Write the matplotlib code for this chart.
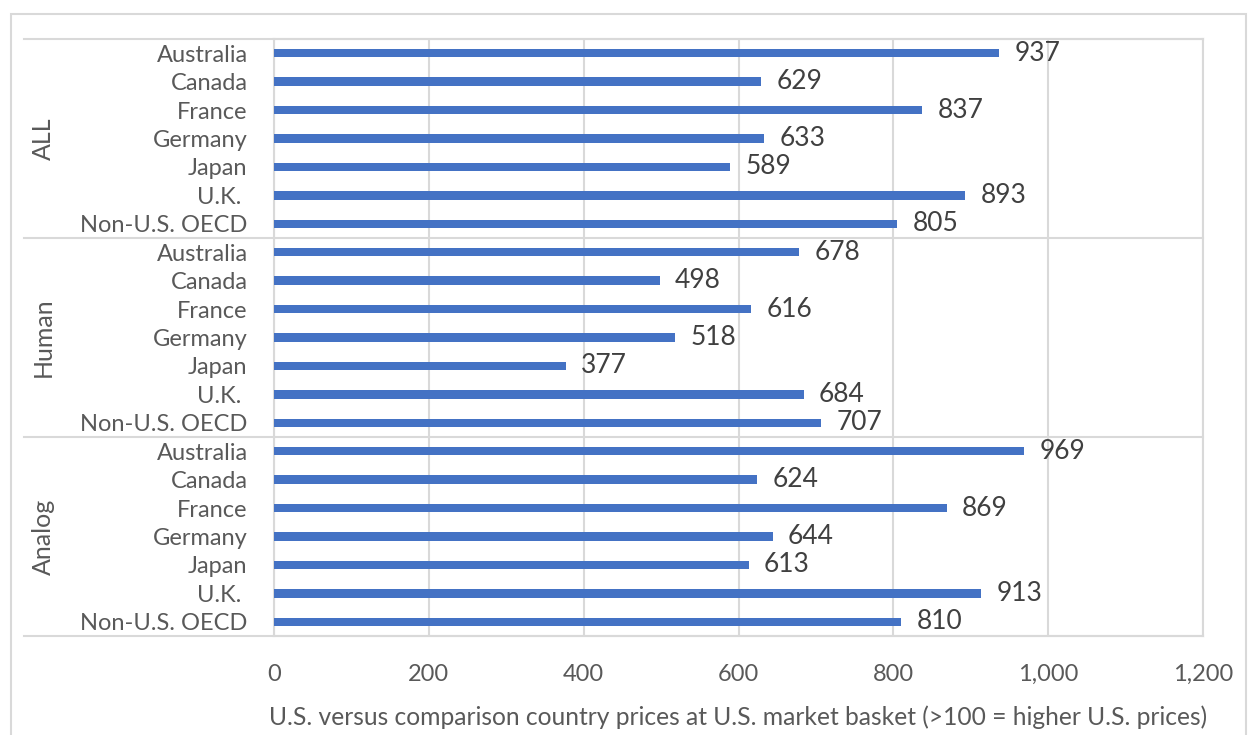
import numpy as np
import matplotlib.pyplot as plt
from matplotlib.patches import Rectangle

# data
groups = ["ALL", "Human", "Analog"]
countries = ["Australia", "Canada", "France", "Germany", "Japan", "U.K. ", "Non-U.S. OECD"]
all_values = [937, 629, 837, 633, 589, 893, 805]
human_values = [678, 498, 616, 518, 377, 684, 707]
analog_values = [969, 624, 869, 644, 613, 913, 810]
x_ticks = [0, 200, 400, 600, 800, 1000, 1200]
x_title = "U.S. versus comparison country prices at U.S. market basket (>100 = higher U.S. prices)"

BAR = "#4472C4"
GRID = "#d9d9d9"
TXT = "#404040"
TICK = "#595959"
plt.rcParams['font.family'] = ['Lato', 'DejaVu Sans']

values = all_values + human_values + analog_values
labels = countries * len(groups)
ypos = np.arange(len(values))

fig = plt.figure(figsize=(12.48, 7.35), dpi=100)
W, H = 1248, 735
ax = fig.add_axes([274 / W, 1 - 636 / H, (1203 - 274) / W, (636 - 39) / H])

# outer chart border
fig.patches.append(Rectangle((11 / W, -0.01), (1246 - 11) / W, 1 - 14 / H + 0.01,
                             transform=fig.transFigure, fill=False,
                             edgecolor=GRID, linewidth=1.5))

ax.barh(ypos, values, height=0.3, color=BAR, zorder=3)
ax.set_ylim(len(values) - 0.5, -0.5)
ax.set_xlim(0, 1200)

for y, v in zip(ypos, values):
    ax.text(v + 20, y, str(v), va='center', ha='left', fontsize=19, color=TXT)

ax.set_xticks(x_ticks)
ax.set_xticklabels([f"{t:,}" for t in x_ticks], fontsize=17, color=TICK)
ax.set_yticks(ypos)
ax.set_yticklabels(labels, fontsize=17, color=TICK)
ax.tick_params(axis='both', length=0)
ax.tick_params(axis='y', pad=19)
ax.tick_params(axis='x', pad=20)
ax.xaxis.grid(True, color=GRID, linewidth=1.5, zorder=0)
for s in ax.spines.values():
    s.set_color(GRID)
    s.set_linewidth(1.5)

# group separators and group labels in the left column
trans = ax.get_yaxis_transform()
x_left = (24 - 274) / (1203 - 274)
n = len(countries)
for k in range(len(groups) + 1):
    yb = k * n - 0.5
    ax.plot([x_left, 1], [yb, yb], transform=trans, color=GRID,
            linewidth=1.5, clip_on=False, zorder=1)
x_grp = (43 - 274) / (1203 - 274)
for k, g in enumerate(groups):
    ax.text(x_grp, k * n + (n - 1) / 2, g, transform=trans, rotation=90,
            ha='center', va='center', fontsize=18, color=TICK)

ax.set_xlabel(x_title, fontsize=17.7, color=TICK, labelpad=15)

fig.savefig("out.png", dpi=100)
